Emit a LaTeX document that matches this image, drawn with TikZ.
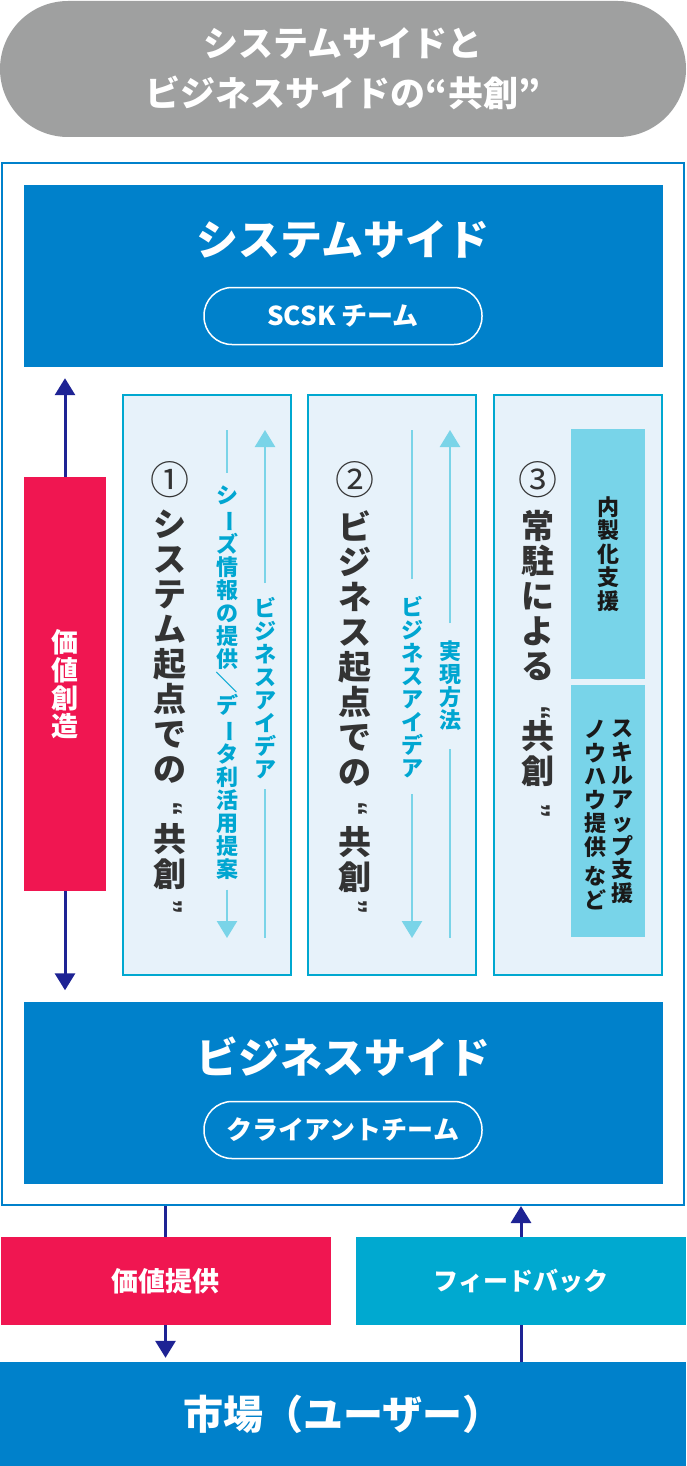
\documentclass[tikz,border=0pt]{standalone}
\usepackage{fontspec}
\setmainfont{Noto Sans CJK JP}
\newfontfamily\quotefont{Liberation Sans}
\usetikzlibrary{arrows.meta,positioning}

\definecolor{sideblue}{HTML}{0081CB}
\definecolor{valuered}{HTML}{F01651}
\definecolor{fbcyan}{HTML}{00A9D0}
\definecolor{panelfill}{HTML}{E7F2FA}
\definecolor{panelline}{HTML}{00A8D0}
\definecolor{tagcyan}{HTML}{78D4E9}
\definecolor{flowcyan}{HTML}{7AD4E8}
\definecolor{textcyan}{HTML}{00A6D1}
\definecolor{arrownavy}{HTML}{1E2394}
\definecolor{pillgray}{HTML}{9FA0A0}
\definecolor{inkgray}{HTML}{333333}

% long mark and slash stand upright in a vertical column
\newcommand{\tatebou}[1]{\rotatebox[origin=c]{-90}{#1}}

\begin{document}
\begin{tikzpicture}[x=1pt, y=-1pt,
      >={Triangle[width=20pt, length=17pt]},
      every node/.append style={align=center, inner sep=0pt},
      side/.style={fill=sideblue, minimum width=639pt, minimum height=182pt},
      sidetitle/.style={text=white, font=\bfseries\fontsize{42}{46}\selectfont},
      team/.style={draw=white, line width=1.5pt, rounded corners=28pt,
        minimum width=278pt, minimum height=57pt, text=white,
        font=\bfseries\fontsize{26}{28}\selectfont},
      panel/.style={draw=panelline, line width=2pt, fill=panelfill,
        minimum width=168pt, minimum height=580pt},
      num/.style={text=inkgray, font=\fontsize{39}{40}\selectfont},
      theme/.style={anchor=north, text=inkgray, font=\bfseries\fontsize{33}{35}\selectfont},
      quote/.style={text=inkgray, font=\quotefont\bfseries\fontsize{30}{30}\selectfont},
      flowtext/.style={anchor=north, text=textcyan, font=\bfseries\fontsize{22}{23}\selectfont},
      flow/.style={draw=flowcyan, line width=2.5pt},
      tag/.style={fill=tagcyan, minimum width=74pt},
      tagtext/.style={text=black!90, font=\bfseries\fontsize{22}{23.5}\selectfont},
      link/.style={draw=arrownavy, line width=3pt},
      band/.style={minimum width=330pt, minimum height=88pt, text=white,
        font=\bfseries\fontsize{27}{30}\selectfont}]

  \useasboundingbox (0,0) rectangle (686,1466);

  \node [fill=pillgray, rounded corners=68pt, minimum width=686pt, minimum height=136pt,
         text=white, font=\bfseries\fontsize{35}{50}\selectfont] (motto) at (343,69)
        {システムサイドと\\ビジネスサイドの“共創”};

  \node [draw=sideblue, line width=2pt, minimum width=682pt, minimum height=1042pt] (frame) at (343,684) {};

  % system side
  \node [side] (sys) at (343.5,276) {};
  \node [sidetitle] (systitle) at (343,240) {システムサイド};
  \node [team] (scsk) at (343,316) {SCSK チーム};

  % business side
  \node [side] (biz) at (343.5,1092.5) {};
  \node [sidetitle] (biztitle) at (343,1057) {ビジネスサイド};
  \node [team] (client) at (343,1130) {クライアントチーム};

  % value creation
  \node [fill=valuered, minimum width=82pt, minimum height=414pt, text=white,
         font=\bfseries\fontsize{27}{28}\selectfont] (create) at (65,684) {価\\値\\創\\造};
  \draw [link, ->, shorten >=11pt] (create.north) -- (create.north |- sys.south);
  \draw [link, ->, shorten >=11pt] (create.south) -- (create.south |- biz.north);

  % the three panels
  \node [panel] (p1) at (207,684.5) {};
  \node [panel] (p2) at (392,684.5) {};
  \node [panel] (p3) at (578,684.5) {};

  % (1)
  \node [num] (n1) at (170,480) {①};
  \node [theme] (t1) at (170,510) {シ\\ス\\テ\\ム\\起\\点\\で\\の\\[35pt]共\\創};
  \node [quote] (t1open) at (172,810) {\tatebou{“}};
  \node [quote] (t1close) at (172,908) {\tatebou{”}};
  \coordinate (a1) at (227,430);
  \coordinate (b1) at (227,938);
  \coordinate (c1) at (265,430);
  \coordinate (d1) at (265,938);
  \node [flowtext] (seeds) at (227,486)
        {シ\\\tatebou{ー}\\ズ\\情\\報\\の\\提\\供\\\tatebou{／}\\デ\\\tatebou{ー}\\タ\\利\\活\\用\\提\\案};
  \node [flowtext] (idea1) at (265,597) {ビ\\ジ\\ネ\\ス\\ア\\イ\\デ\\ア};
  \draw [flow, shorten >=13pt] (a1) -- (seeds);
  \draw [flow, ->, shorten <=10pt] (seeds) -- (b1);
  \draw [flow, ->, shorten <=14pt] (idea1) -- (c1);
  \draw [flow, shorten <=10pt] (idea1) -- (d1);

  % (2)
  \node [num] (n2) at (355,480) {②};
  \node [theme] (t2) at (355,510) {ビ\\ジ\\ネ\\ス\\起\\点\\で\\の\\[35pt]共\\創};
  \node [quote] (t2open) at (357,810) {\tatebou{“}};
  \node [quote] (t2close) at (357,908) {\tatebou{”}};
  \coordinate (a2) at (412,430);
  \coordinate (b2) at (412,938);
  \coordinate (c2) at (450,430);
  \coordinate (d2) at (450,938);
  \node [flowtext] (idea2) at (412,596) {ビ\\ジ\\ネ\\ス\\ア\\イ\\デ\\ア};
  \node [flowtext] (method) at (450,641) {実\\現\\方\\法};
  \draw [flow, shorten >=17pt] (a2) -- (idea2);
  \draw [flow, ->, shorten <=16pt] (idea2) -- (b2);
  \draw [flow, ->, shorten <=18pt] (method) -- (c2);
  \draw [flow, shorten <=18pt] (method) -- (d2);

  % (3)
  \node [num] (n3) at (538,480) {③};
  \node [theme] (t3) at (538,510) {常\\駐\\に\\よ\\る\\[35pt]共\\創};
  \node [quote] (t3open) at (540,714) {\tatebou{“}};
  \node [quote] (t3close) at (540,812) {\tatebou{”}};
  \node [tag, minimum height=250pt, tagtext] (inhouse) at (608,554) {内\\製\\化\\支\\援};
  \node [tag, minimum height=252pt] (skillbox) at (608,811) {};
  \node [tagtext, anchor=north] (skill) at (622,720) {ス\\キ\\ル\\ア\\ッ\\プ\\支\\援};
  \node [tagtext, anchor=north] (knowhow) at (595,720) {ノ\\ウ\\ハ\\ウ\\提\\供\\[6pt]な\\ど};

  % value offer and feedback
  \node [band, fill=valuered] (offer) at (165.5,1281) {価値提供};
  \node [band, fill=fbcyan, font=\bfseries\fontsize{25}{28}\selectfont] (feedback) at (521,1281) {フィードバック};
  \node [fill=sideblue, minimum width=686pt, minimum height=104pt, text=white,
         font=\bfseries\fontsize{40}{44}\selectfont] (market) at (343,1414) {市場（ユーザー）};

  \draw [link] (offer.north |- frame.south) -- (offer.north);
  \draw [link, ->, shorten >=4pt] (offer.south) -- (offer.south |- market.north);
  \draw [link] (feedback.south |- market.north) -- (feedback.south);
  \draw [link, ->] (feedback.north) -- (feedback.north |- frame.south);
\end{tikzpicture}
\end{document}
